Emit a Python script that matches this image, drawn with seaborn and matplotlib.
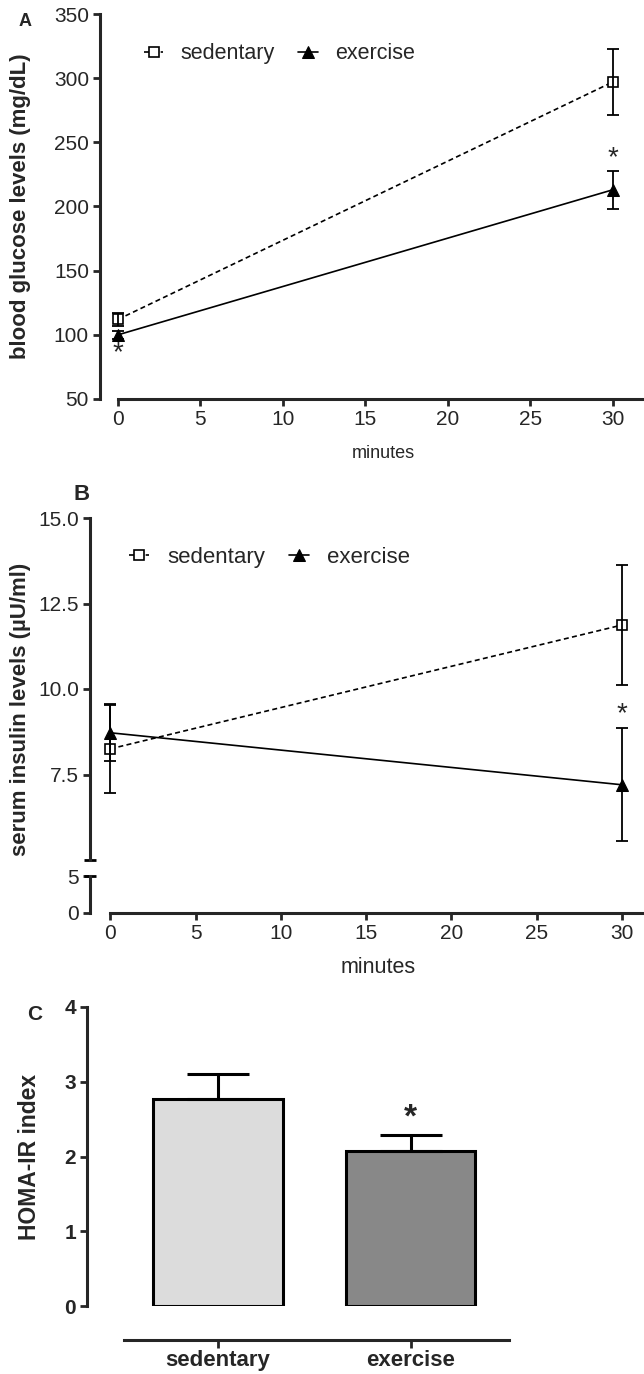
import matplotlib
matplotlib.use("Agg")
import matplotlib.pyplot as plt
import seaborn as sns
import pandas as pd

# --- data ---
minutes = [0, 30]
glucose_sed = [112, 297]
glucose_sed_err = [5, 26]
glucose_exe = [100, 213]
glucose_exe_err = [3, 15]

insulin_sed = [8.25, 11.87]
insulin_sed_err = [1.3, 1.75]
insulin_exe = [8.72, 7.2]
insulin_exe_err = [0.82, 1.65]

groups = ["sedentary", "exercise"]
homa = [2.77, 2.07]
homa_err = [0.33, 0.22]

sns.set_style("ticks")
plt.rcParams["font.family"] = ["Liberation Sans", "DejaVu Sans"]
plt.rcParams["axes.linewidth"] = 2.2
plt.rcParams["xtick.major.width"] = 2
plt.rcParams["ytick.major.width"] = 2
plt.rcParams["xtick.major.size"] = 5
plt.rcParams["ytick.major.size"] = 5

W, H = 644, 1374
fig = plt.figure(figsize=(W / 100, H / 100), dpi=100)


def px(l, t, r, b):
    return [l / W, 1 - b / H, (r - l) / W, (b - t) / H]


def time_series(ax, sed, sed_err, exe, exe_err):
    sns.lineplot(x=minutes, y=sed, ax=ax, color="black", lw=1.2,
                 linestyle=(0, (3, 2)), marker="s", markersize=7,
                 markerfacecolor="white", markeredgecolor="black",
                 markeredgewidth=1.2, label="sedentary")
    sns.lineplot(x=minutes, y=exe, ax=ax, color="black", lw=1.2, marker="^",
                 markersize=8, markeredgecolor="black", label="exercise")
    ax.errorbar(minutes, sed, yerr=sed_err, fmt="none", ecolor="black",
                elinewidth=1.3, capsize=4.5, capthick=1.3)
    ax.errorbar(minutes, exe, yerr=exe_err, fmt="none", ecolor="black",
                elinewidth=1.3, capsize=4.5, capthick=1.3)


# ---------------- panel A ----------------
axA = fig.add_axes(px(100, 14, 644, 399))
time_series(axA, glucose_sed, glucose_sed_err, glucose_exe, glucose_exe_err)
axA.set_xlim(-1.09, 31.9)
axA.set_ylim(50, 350)
axA.set_yticks(range(50, 351, 50))
axA.set_xticks(range(0, 31, 5))
axA.spines[["top", "right"]].set_visible(False)
axA.spines["bottom"].set_bounds(0, 31.9)
axA.tick_params(labelsize=15, pad=3)
axA.set_xlabel("minutes", fontsize=13)
axA.xaxis.set_label_coords(0.52, -0.12)
axA.set_ylabel("blood glucose levels (mg/dL)", fontsize=16, fontweight="bold")
axA.yaxis.set_label_coords(-0.127, 0.5)
axA.legend(ncol=2, loc="center left", bbox_to_anchor=(0.045, 0.897),
           frameon=False, handlelength=0.9, handletextpad=0.8,
           columnspacing=1.1, prop={"size": 15.5})
axA.text(30, 238, "*", ha="center", va="center", fontsize=20)
axA.text(0, 86, "*", ha="center", va="center", fontsize=20)
fig.text(25 / W, 1 - 22 / H, "A", fontsize=13, fontweight="bold", ha="center", va="center")

# ---------------- panel B (broken axis) ----------------
axB = fig.add_axes(px(90, 518, 644, 860))
axB2 = fig.add_axes(px(90, 876, 644, 913))
time_series(axB, insulin_sed, insulin_sed_err, insulin_exe, insulin_exe_err)
for ax in (axB, axB2):
    ax.set_xlim(-1.19, 31.3)
    ax.spines[["top", "right"]].set_visible(False)
    ax.tick_params(labelsize=15, pad=3)
axB.set_ylim(5, 15)
axB.set_yticks([7.5, 10.0, 12.5, 15.0])
axB.set_yticklabels(["7.5", "10.0", "12.5", "15.0"])
axB.spines["bottom"].set_visible(False)
axB.tick_params(axis="x", bottom=False, labelbottom=False)
axB.plot([0], [0], transform=axB.transAxes, marker="_", markersize=8,
         mew=2, color="black", clip_on=False)
axB2.set_ylim(0, 5)
axB2.set_yticks([0, 5])
axB2.set_xticks(range(0, 31, 5))
axB2.spines["bottom"].set_bounds(0, 31.3)
axB2.spines["left"].set_bounds(0, 5)
axB2.plot([0], [1], transform=axB2.transAxes, marker="_", markersize=8,
          mew=2, color="black", clip_on=False)
axB2.set_xlabel("minutes", fontsize=15.5)
axB2.xaxis.set_label_coords(0.52, -1.2)
axB.set_ylabel("serum insulin levels (µU/ml)", fontsize=16, fontweight="bold")
axB.yaxis.set_label_coords(-0.106, 0.44)
axB.legend(ncol=2, loc="center left", bbox_to_anchor=(0.035, 0.884),
           frameon=False, handlelength=0.9, handletextpad=0.8,
           columnspacing=1.1, prop={"size": 16})
axB.text(30, 9.25, "*", ha="center", va="center", fontsize=20)
fig.text(82 / W, 1 - 495 / H, "B", fontsize=16, fontweight="bold", ha="center", va="center")

# ---------------- panel C ----------------
axC = fig.add_axes(px(87, 1007, 509, 1306))
df = pd.DataFrame({"group": groups, "homa": homa})
sns.barplot(data=df, x="group", y="homa", hue="group", ax=axC,
            palette=["#dcdcdc", "#888888"], width=0.67, edgecolor="black",
            linewidth=2.2, legend=False)
axC.errorbar(range(len(groups)), homa, yerr=[[0, 0], homa_err], fmt="none",
             ecolor="black", elinewidth=2.2, capsize=22.5, capthick=2.2)
axC.set_xlim(-0.68, 1.51)
axC.set_ylim(0, 4)
axC.set_yticks(range(0, 5))
axC.spines[["top", "right"]].set_visible(False)
axC.spines["bottom"].set_position(("outward", 24.5))
axC.spines["bottom"].set_bounds(-0.49, 1.51)
axC.tick_params(axis="y", labelsize=15, pad=3)
axC.tick_params(axis="x", labelsize=16, length=6, pad=1.5)
for lab in axC.get_xticklabels() + axC.get_yticklabels():
    lab.set_fontweight("bold")
axC.set_xlabel("")
axC.set_ylabel("HOMA-IR index", fontsize=16.5, fontweight="bold")
axC.yaxis.set_label_coords(-0.109, 0.5)
axC.text(1, 2.52, "*", ha="center", va="center", fontsize=24, fontweight="bold")
fig.text(35 / W, 1 - 1015 / H, "C", fontsize=15, fontweight="bold", ha="center", va="center")

fig.savefig("out.png", dpi=100)
